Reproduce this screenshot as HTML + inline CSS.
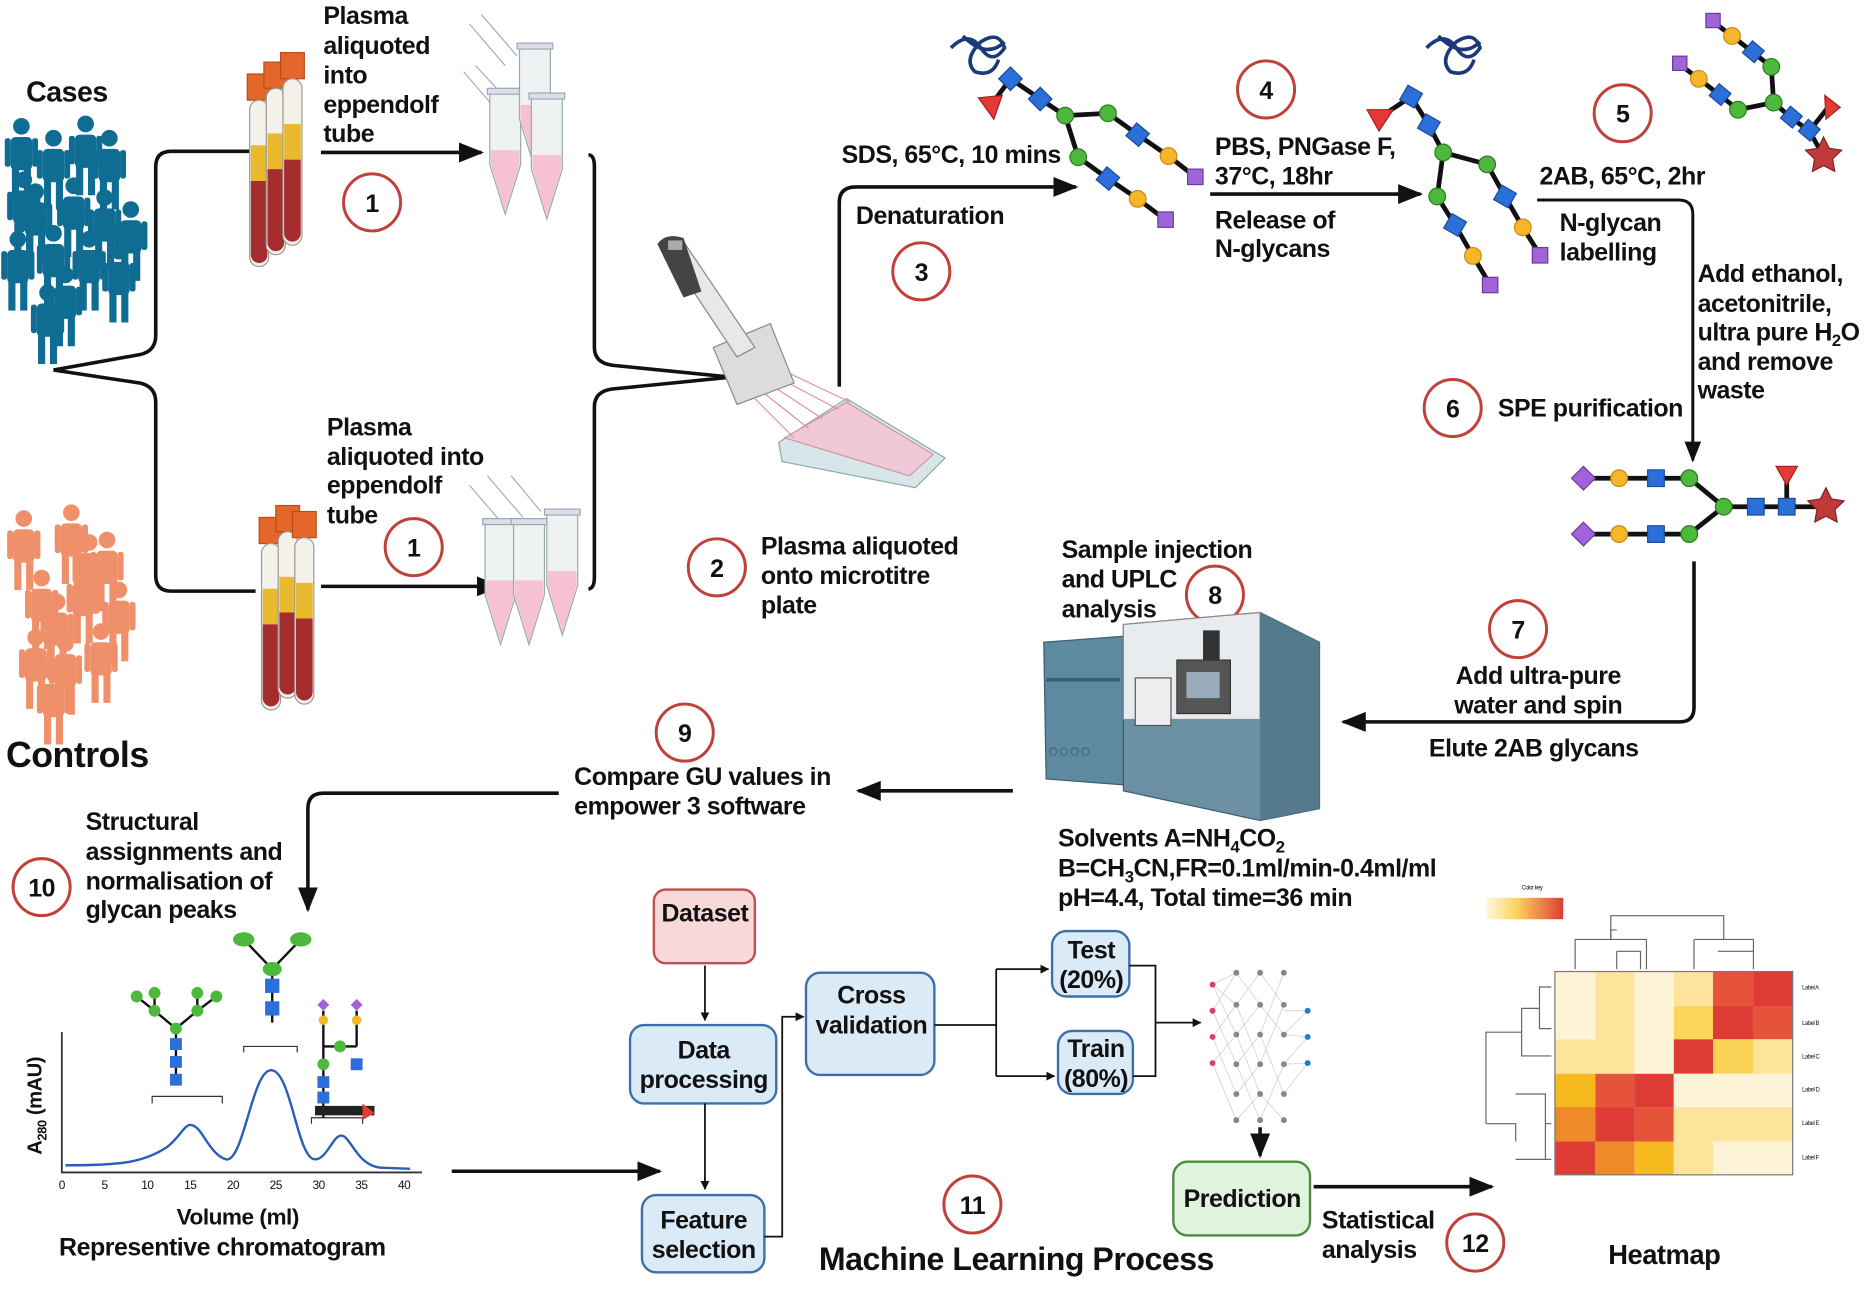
<!DOCTYPE html>
<html><head><meta charset="utf-8"><style>
html,body{margin:0;padding:0;background:#fff}
svg{display:block}
text{font-family:"Liberation Sans Narrow","Liberation Sans",sans-serif;font-weight:bold;fill:#111;letter-spacing:-0.4px}
</style></head><body>
<svg width="1864" height="1294" viewBox="0 0 1568 1088" xmlns="http://www.w3.org/2000/svg">
<defs>
<marker id="ah" viewBox="0 0 10 10" refX="9" refY="5" markerWidth="5" markerHeight="5" orient="auto-start-reverse"><path d="M0,0L10,5L0,10z" fill="#111"/></marker>
<marker id="as" viewBox="0 0 10 10" refX="9" refY="5" markerWidth="7" markerHeight="7" orient="auto"><path d="M0,1L10,5L0,9z" fill="#111"/></marker>
<linearGradient id="ck" x1="0" x2="1"><stop offset="0" stop-color="#fff8e0"/><stop offset="0.4" stop-color="#fcd35a"/><stop offset="1" stop-color="#e03c36"/></linearGradient>
<g id="pb"><circle cx="0" cy="-24" r="7"/><rect x="-9" y="-15" width="18" height="28" rx="4"/><rect x="-8" y="10" width="6" height="26"/><rect x="2" y="10" width="6" height="26"/><rect x="-14" y="-14" width="5" height="24" rx="2"/><rect x="9" y="-14" width="5" height="24" rx="2"/></g>
<g id="tube"><rect x="0" y="0" width="20" height="22" fill="#e4662a" stroke="#b84d1c"/><rect x="2" y="22" width="16" height="140" rx="8" fill="#f4f0ea" stroke="#999"/><rect x="3" y="60" width="14" height="30" fill="#e9b92e"/><path d="M3,90h14v62a7,7 0 0 1 -14,0z" fill="#a52d2d"/></g>
<g id="epp"><path d="M0,0h26v60l-13,42l-13,-42z" fill="#eef2f2" stroke="#9aa"/><path d="M1,48h24v12l-12,40l-12,-40z" fill="#f6c2d3"/><rect x="-2" y="-4" width="30" height="5" fill="#dde" stroke="#9aa"/></g>
</defs>

<!-- People cases -->
<g fill="#0f6c92">
<use href="#pb" x="18" y="130"/><use href="#pb" x="45" y="140"/><use href="#pb" x="72" y="128"/><use href="#pb" x="92" y="140"/>
<use href="#pb" x="30" y="185"/><use href="#pb" x="62" y="180"/><use href="#pb" x="88" y="190"/><use href="#pb" x="110" y="200"/>
<use href="#pb" x="15" y="225"/><use href="#pb" x="45" y="220"/><use href="#pb" x="75" y="225"/><use href="#pb" x="100" y="235"/>
<use href="#pb" x="40" y="270"/><use href="#pb" x="20" y="175"/><use href="#pb" x="55" y="255"/>
</g>
<g fill="#f0906a">
<use href="#pb" x="20" y="460"/><use href="#pb" x="60" y="455"/><use href="#pb" x="90" y="478"/>
<use href="#pb" x="35" y="510"/><use href="#pb" x="70" y="505"/><use href="#pb" x="100" y="520"/>
<use href="#pb" x="30" y="560"/><use href="#pb" x="55" y="565"/><use href="#pb" x="85" y="555"/><use href="#pb" x="45" y="590"/>
<use href="#pb" x="48" y="530"/><use href="#pb" x="75" y="480"/>
</g>
<text x="22" y="85" font-size="24">Cases</text>
<text x="5" y="645" font-size="30">Controls</text>

<!-- brackets -->
<g fill="none" stroke="#111" stroke-width="3">
<path d="M45,311 L118,298 Q131,295 131,282 V140 Q131,127 144,127 H210"/>
<path d="M45,311 L118,322 Q131,325 131,338 V484 Q131,497 144,497 H215"/>
<path d="M495,130 Q500,130 500,140 V292 Q500,305 515,307 L615,317"/>
<path d="M495,495 Q500,495 500,485 V342 Q500,329 515,327 L615,317"/>
</g>

<!-- tubes -->
<use href="#tube" x="208" y="62"/><use href="#tube" x="222" y="52"/><use href="#tube" x="236" y="44"/>
<use href="#tube" x="218" y="435"/><use href="#tube" x="232" y="425"/><use href="#tube" x="246" y="430"/>
<text font-size="21"><tspan x="272" y="20">Plasma</tspan><tspan x="272" y="45">aliquoted</tspan><tspan x="272" y="70">into</tspan><tspan x="272" y="95">eppendolf</tspan><tspan x="272" y="119">tube</tspan></text>
<line x1="270" y1="128" x2="405" y2="128" stroke="#111" stroke-width="3" marker-end="url(#as)"/>
<text font-size="21"><tspan x="275" y="366">Plasma</tspan><tspan x="275" y="391">aliquoted into</tspan><tspan x="275" y="415">eppendolf</tspan><tspan x="275" y="440">tube</tspan></text>
<line x1="270" y1="493" x2="420" y2="493" stroke="#111" stroke-width="3" marker-end="url(#as)"/>

<!-- eppendorfs -->
<g stroke="#aab" fill="#f4f6f6"><path d="M395,20l30,35M405,12l30,35M390,60l30,35M400,55l28,30"/></g>
<use href="#epp" x="412" y="78"/><use href="#epp" x="437" y="40"/><use href="#epp" x="447" y="82"/>
<g stroke="#aab" fill="none"><path d="M395,408l30,35M410,400l30,35M430,400l25,30"/></g>
<use href="#epp" x="408" y="440"/><use href="#epp" x="432" y="440"/><use href="#epp" x="460" y="432"/>

<!-- pipette and plate -->
<g>
<path d="M655,372 L712,335 L795,385 L770,410 L658,388 Z" fill="#d8e6ea" stroke="#8aa"/>
<path d="M660,368 L712,338 L785,382 L765,400 Z" fill="#f0c8d8" stroke="#c99"/>
<g stroke="#e090b0" stroke-width="1"><path d="M625,325 L668,368M632,322 L680,360M640,318 L692,352M648,314 L705,344M656,310 L715,338"/></g>
<path d="M600,292 L648,272 L668,322 L620,340 Z" fill="#dcdcdc" stroke="#888"/>
<path d="M560,210 L575,203 L635,292 L620,300 Z" fill="#e8e8e8" stroke="#888"/>
<path d="M553,205 Q560,195 575,200 L590,245 L575,250 Z" fill="#444"/>
<rect x="562" y="202" width="12" height="8" fill="#aaa"/>
</g>

<!-- numbered circles -->
<g fill="#fff" stroke="#c0403a" stroke-width="2.5">
<circle cx="313" cy="170" r="24"/><circle cx="348" cy="460" r="24"/><circle cx="603" cy="477" r="24"/><circle cx="775" cy="228" r="24"/>
<circle cx="1065" cy="75" r="24"/><circle cx="1365" cy="95" r="24"/><circle cx="1222" cy="343" r="24"/><circle cx="1277" cy="529" r="24"/>
<circle cx="1022" cy="500" r="24"/><circle cx="576" cy="616" r="24"/><circle cx="35" cy="746" r="24"/><circle cx="818" cy="1013" r="24"/><circle cx="1241" cy="1045" r="24"/>
</g>
<g font-size="21" text-anchor="middle">
<text x="313" y="178">1</text><text x="348" y="468">1</text><text x="603" y="485">2</text><text x="775" y="236">3</text>
<text x="1065" y="83">4</text><text x="1365" y="103">5</text><text x="1222" y="351">6</text><text x="1277" y="537">7</text>
<text x="1022" y="508">8</text><text x="576" y="624">9</text><text x="35" y="754">10</text><text x="818" y="1021">11</text><text x="1241" y="1053">12</text>
</g>
<text font-size="21"><tspan x="640" y="466">Plasma aliquoted</tspan><tspan x="640" y="491">onto microtitre</tspan><tspan x="640" y="516">plate</tspan></text>

<!-- step 3 -->
<path d="M706,325 V170 Q706,157 720,157 H905" fill="none" stroke="#111" stroke-width="3" marker-end="url(#as)"/>
<text x="708" y="137" font-size="21">SDS, 65°C, 10 mins</text>
<text x="720" y="188" font-size="21">Denaturation</text>

<!-- glycan link lines -->
<g stroke="#111" stroke-width="4" fill="none">
<path d="M833,89 L850,66 L875,83 L896,97 L932,95 L957,113 L983,131 L1006,149"/>
<path d="M896,97 L907,132 L932,150 L957,167 L981,185"/>
<path d="M1160,99 L1187,81 L1202,105 L1214,128 L1251,138 L1266,165 L1281,191 L1296,215"/>
<path d="M1214,128 L1209,165 L1224,189 L1239,215 L1254,240"/>
<path d="M1441,18 L1457,30 L1475,44 L1490,56 L1492,86 L1507,99 L1522,110 L1534,131"/>
<path d="M1413,54 L1429,66 L1447,80 L1462,92 L1492,86 M1522,110 L1541,86"/>
<path d="M1332,402 H1421 L1450,426 H1534 M1332,449 H1421 L1450,426 M1503,426 V397"/>
</g>
<g fill="none" stroke="#1a3a7a" stroke-width="3">
<path d="M800,40 q15,-15 25,0 q10,15 20,0 q-5,-15 -20,-5 q-15,15 -5,25 q15,5 20,-10 M810,30 q20,20 35,5"/>
<path d="M1200,40 q15,-15 25,0 q10,15 20,0 q-5,-15 -20,-5 q-15,15 -5,25 q15,5 20,-10 M1210,30 q20,20 35,5"/>
</g>
<!-- glycan symbols -->
<g fill="#2d6fd8" stroke="#1a4a9a" stroke-width="1">
<rect x="843" y="59" width="14" height="14" transform="rotate(45 850 66)"/><rect x="868" y="76" width="14" height="14" transform="rotate(45 875 83)"/>
<rect x="950" y="106" width="14" height="14" transform="rotate(40 957 113)"/><rect x="925" y="143" width="14" height="14" transform="rotate(40 932 150)"/>
<rect x="1180" y="74" width="14" height="14" transform="rotate(30 1187 81)"/><rect x="1195" y="98" width="14" height="14" transform="rotate(30 1202 105)"/>
<rect x="1259" y="158" width="14" height="14" transform="rotate(30 1266 165)"/><rect x="1217" y="182" width="14" height="14" transform="rotate(30 1224 189)"/>
<rect x="1468" y="37" width="13" height="13" transform="rotate(40 1475 44)"/><rect x="1500" y="92" width="13" height="13" transform="rotate(40 1507 99)"/><rect x="1515" y="103" width="13" height="13" transform="rotate(40 1522 110)"/><rect x="1440" y="73" width="13" height="13" transform="rotate(40 1447 80)"/>
<rect x="1386" y="395" width="14" height="14"/><rect x="1386" y="442" width="14" height="14"/><rect x="1470" y="419" width="14" height="14"/><rect x="1496" y="419" width="14" height="14"/>
</g>
<g fill="#4cb83c" stroke="#2d7a22" stroke-width="1">
<circle cx="896" cy="97" r="7"/><circle cx="932" cy="95" r="7"/><circle cx="907" cy="132" r="7"/>
<circle cx="1214" cy="128" r="7"/><circle cx="1251" cy="138" r="7"/><circle cx="1209" cy="165" r="7"/>
<circle cx="1490" cy="56" r="7"/><circle cx="1492" cy="86" r="7"/><circle cx="1462" cy="92" r="7"/>
<circle cx="1421" cy="402" r="7"/><circle cx="1421" cy="449" r="7"/><circle cx="1450" cy="426" r="7"/>
</g>
<g fill="#f5b62a" stroke="#c98a10" stroke-width="1">
<circle cx="983" cy="131" r="7"/><circle cx="957" cy="167" r="7"/><circle cx="1281" cy="191" r="7"/><circle cx="1239" cy="215" r="7"/>
<circle cx="1457" cy="30" r="7"/><circle cx="1429" cy="66" r="7"/><circle cx="1362" cy="402" r="7"/><circle cx="1362" cy="449" r="7"/>
</g>
<g fill="#a063d8" stroke="#6a3aa0" stroke-width="1">
<rect x="999" y="142" width="13" height="13"/><rect x="974" y="178" width="13" height="13"/><rect x="1289" y="208" width="13" height="13"/><rect x="1247" y="233" width="13" height="13"/>
<rect x="1435" y="11" width="12" height="12"/><rect x="1407" y="47" width="12" height="12"/>
<path d="M1322,402l10,-10l10,10l-10,10z M1322,449l10,-10l10,10l-10,10z"/>
</g>
<g fill="#e53935" stroke="#a02020" stroke-width="1">
<path d="M823,82 L843,80 L836,100 Z"/><path d="M1150,92 L1172,92 L1160,110 Z"/><path d="M1535,80 L1548,90 L1536,100 Z"/><path d="M1494,392 H1512 L1503,408 Z"/>
</g>
<g fill="#c03a3a" stroke="#802020" stroke-width="1">
<path d="M0,-16 L4.7,-6.5 L15.2,-4.9 L7.6,2.5 L9.4,12.9 L0,8 L-9.4,12.9 L-7.6,2.5 L-15.2,-4.9 L-4.7,-6.5 Z" transform="translate(1534,131)"/>
<path d="M0,-16 L4.7,-6.5 L15.2,-4.9 L7.6,2.5 L9.4,12.9 L0,8 L-9.4,12.9 L-7.6,2.5 L-15.2,-4.9 L-4.7,-6.5 Z" transform="translate(1536,426)"/>
</g>

<!-- step 4 -->
<text font-size="21"><tspan x="1022" y="130">PBS, PNGase F,</tspan><tspan x="1022" y="155">37°C, 18hr</tspan></text>
<line x1="1018" y1="163" x2="1195" y2="163" stroke="#111" stroke-width="3" marker-end="url(#as)"/>
<text font-size="21"><tspan x="1022" y="192">Release of</tspan><tspan x="1022" y="216">N-glycans</tspan></text>

<!-- step 5/6 -->
<text x="1295" y="155" font-size="21">2AB, 65°C, 2hr</text>
<path d="M1293,168 H1412 Q1424,168 1424,180 V387" fill="none" stroke="#111" stroke-width="2.5" marker-end="url(#as)"/>
<text font-size="21"><tspan x="1312" y="194">N-glycan</tspan><tspan x="1312" y="219">labelling</tspan></text>
<text font-size="21"><tspan x="1428" y="237">Add ethanol,</tspan><tspan x="1428" y="262">acetonitrile,</tspan><tspan x="1428" y="286">ultra pure H<tspan font-size="14" dy="5">2</tspan><tspan dy="-5">O</tspan></tspan><tspan x="1428" y="311">and remove</tspan><tspan x="1428" y="335">waste</tspan></text>
<text x="1260" y="350" font-size="21">SPE purification</text>

<!-- step 7 -->
<path d="M1425,472 V595 Q1425,607 1413,607 H1130" fill="none" stroke="#111" stroke-width="3" marker-end="url(#as)"/>
<text font-size="21" text-anchor="middle"><tspan x="1294" y="575">Add ultra-pure</tspan><tspan x="1294" y="600">water and spin</tspan></text>
<text x="1202" y="636" font-size="21">Elute 2AB glycans</text>

<!-- UPLC -->
<g>
<path d="M878,540 L945,535 L945,660 L880,655 Z" fill="#5d8aa0" stroke="#3d5d70"/>
<rect x="880" y="570" width="62" height="3" fill="#3d5d70"/>
<path d="M945,525 L1060,515 L1110,540 L1110,680 L1060,690 L945,665 Z" fill="#6b8fa3" stroke="#3d5d70"/>
<path d="M945,525 L1060,515 L1060,605 L945,605 Z" fill="#e8ecee" stroke="#889"/>
<rect x="990" y="555" width="45" height="45" fill="#555" stroke="#333"/>
<rect x="998" y="565" width="28" height="22" fill="#9ab"/>
<rect x="955" y="570" width="30" height="40" fill="#eee" stroke="#555"/>
<rect x="1012" y="530" width="14" height="25" fill="#333"/>
<path d="M1060,515 L1110,540 L1110,680 L1060,690 Z" fill="#557a8e"/>
<g fill="none" stroke="#44667a"><circle cx="886" cy="632" r="3"/><circle cx="895" cy="632" r="3"/><circle cx="904" cy="632" r="3"/><circle cx="913" cy="632" r="3"/></g>
</g>
<text font-size="21"><tspan x="893" y="469">Sample injection</tspan><tspan x="893" y="494">and UPLC</tspan><tspan x="893" y="519">analysis</tspan></text>
<text font-size="21"><tspan x="890" y="712">Solvents A=NH<tspan font-size="14" dy="5">4</tspan><tspan dy="-5">CO</tspan><tspan font-size="14" dy="5">2</tspan></tspan><tspan x="890" y="737">B=CH<tspan font-size="14" dy="5">3</tspan><tspan dy="-5">CN,FR=0.1ml/min-0.4ml/ml</tspan></tspan><tspan x="890" y="762">pH=4.4, Total time=36 min</tspan></text>

<!-- step 9 -->
<line x1="852" y1="665" x2="722" y2="665" stroke="#111" stroke-width="3" marker-end="url(#as)"/>
<text font-size="21"><tspan x="483" y="660">Compare GU values in</tspan><tspan x="483" y="685">empower 3 software</tspan></text>
<path d="M470,667 H272 Q259,667 259,680 V765" fill="none" stroke="#111" stroke-width="3" marker-end="url(#as)"/>
<text font-size="21"><tspan x="72" y="698">Structural</tspan><tspan x="72" y="723">assignments and</tspan><tspan x="72" y="748">normalisation of</tspan><tspan x="72" y="772">glycan peaks</tspan></text>

<!-- chromatogram -->
<path d="M52,868 V986 H355" stroke="#333" stroke-width="1.5" fill="none"/>
<g font-size="10" text-anchor="middle">
<text x="52" y="1000" style="font-weight:normal">0</text><text x="88" y="1000" style="font-weight:normal">5</text><text x="124" y="1000" style="font-weight:normal">10</text><text x="160" y="1000" style="font-weight:normal">15</text><text x="196" y="1000" style="font-weight:normal">20</text><text x="232" y="1000" style="font-weight:normal">25</text><text x="268" y="1000" style="font-weight:normal">30</text><text x="304" y="1000" style="font-weight:normal">35</text><text x="340" y="1000" style="font-weight:normal">40</text>
</g>
<path d="M55,980 C100,980 120,978 140,965 C150,958 155,946 160,946 C170,946 175,970 190,975 C205,978 212,900 228,900 C245,900 250,975 265,975 C275,975 280,955 287,955 C295,955 300,980 320,982 L345,983" fill="none" stroke="#2a5cb8" stroke-width="2"/>
<text x="200" y="1030" font-size="19" text-anchor="middle">Volume (ml)</text>
<text x="187" y="1056" font-size="21" text-anchor="middle">Representive chromatogram</text>
<text transform="translate(35,930) rotate(-90)" font-size="17" text-anchor="middle">A<tspan font-size="11" dy="4">280</tspan><tspan dy="-4"> (mAU)</tspan></text>
<g stroke="#333" stroke-width="1" fill="none"><path d="M128,928 V922 H187 V928 M205,885 V880 H250 V885 M262,945 V940 H305 V945"/></g>
<g stroke="#111" stroke-width="2" fill="none">
<path d="M148,912 V865 M148,865 L130,850 L130,835 M148,865 L166,850 L166,835 M166,850 L182,838 M130,850 L115,838"/>
<path d="M229,860 V815 M229,815 L205,790 M229,815 L253,790"/>
<path d="M272,940 V860 M272,880 L300,880 M300,880 V860 M272,862 V850 M300,862 V850"/>
</g>
<g fill="#4cb83c"><circle cx="148" cy="865" r="5"/><circle cx="130" cy="850" r="5"/><circle cx="166" cy="850" r="5"/><circle cx="130" cy="835" r="5"/><circle cx="166" cy="835" r="5"/><circle cx="182" cy="838" r="5"/><circle cx="115" cy="838" r="5"/><ellipse cx="229" cy="815" rx="8" ry="6"/><ellipse cx="205" cy="790" rx="9" ry="6"/><ellipse cx="253" cy="790" rx="9" ry="6"/><circle cx="286" cy="880" r="5"/><circle cx="272" cy="895" r="5"/></g>
<g fill="#2d6fd8"><rect x="143" y="873" width="10" height="10"/><rect x="143" y="888" width="10" height="10"/><rect x="143" y="903" width="10" height="10"/><rect x="223" y="823" width="12" height="12"/><rect x="223" y="842" width="12" height="12"/><rect x="267" y="905" width="10" height="10"/><rect x="267" y="918" width="10" height="10"/><rect x="295" y="890" width="10" height="10"/></g>
<g fill="#f5b62a"><circle cx="272" cy="858" r="4"/><circle cx="300" cy="858" r="4"/></g>
<g fill="#a063d8"><path d="M267,845l5,-5l5,5l-5,5z M295,845l5,-5l5,5l-5,5z"/></g>
<g><rect x="265" y="930" width="50" height="8" fill="#222"/><path d="M305,928 L315,936 L305,942Z" fill="#e53935"/></g>

<line x1="380" y1="985" x2="555" y2="985" stroke="#111" stroke-width="3" marker-end="url(#as)"/>

<!-- ML boxes -->
<g stroke-width="2">
<rect x="550" y="748" width="85" height="62" rx="10" fill="#f8d8d8" stroke="#c0504d"/>
<rect x="530" y="862" width="123" height="66" rx="12" fill="#dbeaf7" stroke="#3d6fa8"/>
<rect x="540" y="1005" width="103" height="65" rx="12" fill="#dbeaf7" stroke="#3d6fa8"/>
<rect x="678" y="818" width="108" height="86" rx="12" fill="#dbeaf7" stroke="#3d6fa8"/>
<rect x="885" y="783" width="65" height="55" rx="12" fill="#dbeaf7" stroke="#3d6fa8"/>
<rect x="890" y="867" width="63" height="53" rx="12" fill="#dbeaf7" stroke="#3d6fa8"/>
<rect x="987" y="977" width="115" height="62" rx="12" fill="#e0f3dc" stroke="#4c8c3e"/>
</g>
<g font-size="21" text-anchor="middle">
<text x="593" y="775">Dataset</text>
<text x="592" y="890">Data</text><text x="592" y="915">processing</text>
<text x="592" y="1033">Feature</text><text x="592" y="1058">selection</text>
<text x="733" y="844">Cross</text><text x="733" y="869">validation</text>
<text x="918" y="806">Test</text><text x="918" y="831">(20%)</text>
<text x="922" y="889">Train</text><text x="922" y="914">(80%)</text>
<text x="1045" y="1015">Prediction</text>
</g>
<g stroke="#111" stroke-width="1.5" fill="none">
<line x1="593" y1="812" x2="593" y2="858" marker-end="url(#ah)"/>
<line x1="593" y1="928" x2="593" y2="1000" marker-end="url(#ah)"/>
<path d="M643,1040 H658 V855 H676" marker-end="url(#ah)"/>
<path d="M786,862 H838"/>
<path d="M838,815 V905"/>
<path d="M838,815 H882" marker-end="url(#ah)"/>
<path d="M838,905 H887" marker-end="url(#ah)"/>
<path d="M950,812 H972 V905 H953"/>
<path d="M972,860 H1010" marker-end="url(#ah)"/>
</g>
<!-- neural net -->
<g stroke="#ccc" stroke-width="0.6">
<path d="M1020,828 L1040,818 M1020,828 L1040,845 M1020,828 L1040,870 M1020,850 L1040,818 M1020,850 L1040,895 M1020,872 L1040,845 M1020,872 L1040,920 M1020,894 L1040,870 M1020,894 L1040,942 M1040,818 L1060,845 M1040,845 L1060,818 M1040,845 L1060,895 M1040,870 L1060,845 M1040,870 L1060,920 M1040,895 L1060,870 M1040,895 L1060,942 M1040,920 L1060,895 M1040,942 L1060,920 M1060,818 L1080,845 M1060,845 L1080,870 M1060,870 L1080,818 M1060,870 L1080,920 M1060,895 L1080,845 M1060,920 L1080,942 M1060,942 L1080,895 M1080,850 L1100,850 M1080,870 L1100,872 M1080,895 L1100,894 M1080,870 L1100,850 M1080,895 L1100,872 M1080,920 L1100,894"/>
</g>
<g fill="#888">
<circle cx="1040" cy="818" r="2.5"/><circle cx="1040" cy="845" r="2.5"/><circle cx="1040" cy="870" r="2.5"/><circle cx="1040" cy="895" r="2.5"/><circle cx="1040" cy="920" r="2.5"/><circle cx="1040" cy="942" r="2.5"/>
<circle cx="1060" cy="818" r="2.5"/><circle cx="1060" cy="845" r="2.5"/><circle cx="1060" cy="870" r="2.5"/><circle cx="1060" cy="895" r="2.5"/><circle cx="1060" cy="920" r="2.5"/><circle cx="1060" cy="942" r="2.5"/>
<circle cx="1080" cy="818" r="2.5"/><circle cx="1080" cy="845" r="2.5"/><circle cx="1080" cy="870" r="2.5"/><circle cx="1080" cy="895" r="2.5"/><circle cx="1080" cy="920" r="2.5"/><circle cx="1080" cy="942" r="2.5"/>
</g>
<g fill="#d84070"><circle cx="1020" cy="828" r="2.5"/><circle cx="1020" cy="850" r="2.5"/><circle cx="1020" cy="872" r="2.5"/><circle cx="1020" cy="894" r="2.5"/></g>
<g fill="#1a80c8"><circle cx="1100" cy="850" r="2.5"/><circle cx="1100" cy="872" r="2.5"/><circle cx="1100" cy="894" r="2.5"/></g>
<line x1="1060" y1="948" x2="1060" y2="972" stroke="#111" stroke-width="3" marker-end="url(#as)"/>
<line x1="1105" y1="998" x2="1255" y2="998" stroke="#111" stroke-width="3" marker-end="url(#as)"/>

<text x="855" y="1068" font-size="27" text-anchor="middle">Machine Learning Process</text>
<text font-size="21"><tspan x="1112" y="1033">Statistical</tspan><tspan x="1112" y="1058">analysis</tspan></text>

<!-- heatmap -->
<rect x="1250" y="755" width="65" height="18" fill="url(#ck)"/>
<text x="1280" y="748" font-size="5" style="font-weight:normal">Color key</text>
<g>
<rect x="1308" y="817" width="34" height="29" fill="#fdf3d6"/><rect x="1342" y="817" width="33" height="29" fill="#fde49a"/><rect x="1375" y="817" width="33" height="29" fill="#fdf3d6"/><rect x="1408" y="817" width="33" height="29" fill="#fde39b"/><rect x="1441" y="817" width="34" height="29" fill="#e5533a"/><rect x="1475" y="817" width="33" height="29" fill="#e03c36"/>
<rect x="1308" y="846" width="34" height="28" fill="#fdf3d6"/><rect x="1342" y="846" width="33" height="28" fill="#fde49a"/><rect x="1375" y="846" width="33" height="28" fill="#fdf3d6"/><rect x="1408" y="846" width="33" height="28" fill="#fcd55a"/><rect x="1441" y="846" width="34" height="28" fill="#e03c36"/><rect x="1475" y="846" width="33" height="28" fill="#e5533a"/>
<rect x="1308" y="874" width="34" height="29" fill="#fde49a"/><rect x="1342" y="874" width="33" height="29" fill="#fde49a"/><rect x="1375" y="874" width="33" height="29" fill="#fdf3d6"/><rect x="1408" y="874" width="33" height="29" fill="#e03c36"/><rect x="1441" y="874" width="34" height="29" fill="#fbd357"/><rect x="1475" y="874" width="33" height="29" fill="#fde49a"/>
<rect x="1308" y="903" width="34" height="28" fill="#f6b91e"/><rect x="1342" y="903" width="33" height="28" fill="#e5533a"/><rect x="1375" y="903" width="33" height="28" fill="#e03c36"/><rect x="1408" y="903" width="33" height="28" fill="#fdf3d6"/><rect x="1441" y="903" width="34" height="28" fill="#fdf3d6"/><rect x="1475" y="903" width="33" height="28" fill="#fdf3d6"/>
<rect x="1308" y="931" width="34" height="29" fill="#ef8a2a"/><rect x="1342" y="931" width="33" height="29" fill="#e03c36"/><rect x="1375" y="931" width="33" height="29" fill="#e5533a"/><rect x="1408" y="931" width="33" height="29" fill="#fde49a"/><rect x="1441" y="931" width="34" height="29" fill="#fde49a"/><rect x="1475" y="931" width="33" height="29" fill="#fde49a"/>
<rect x="1308" y="960" width="34" height="28" fill="#e03c36"/><rect x="1342" y="960" width="33" height="28" fill="#ef8a2a"/><rect x="1375" y="960" width="33" height="28" fill="#f6b91e"/><rect x="1408" y="960" width="33" height="28" fill="#fde49a"/><rect x="1441" y="960" width="34" height="28" fill="#fdf3d6"/><rect x="1475" y="960" width="33" height="28" fill="#fdf3d6"/>
</g>
<rect x="1308" y="817" width="200" height="171" fill="none" stroke="#777" stroke-width="1"/>
<g fill="none" stroke="#666" stroke-width="1">
<path d="M1325,815 V790 H1385 V815 M1355,790 V782 H1360 M1360,800 H1380 V815 M1360,800 V815"/>
<path d="M1355,790 V770 H1450 V790 M1425,790 H1475 V815 M1425,790 V815 M1445,800 H1475"/>
<path d="M1305,830 H1295 V865 H1305 M1295,848 H1280 V888 H1305 M1280,868 H1250 V945 M1250,945 H1275 V960 M1275,920 H1300 V975 H1305 M1300,945 H1305 M1275,975 H1305"/>
</g>
<g font-size="5" fill="#888">
<text x="1516" y="832" style="font-weight:normal">Label A</text><text x="1516" y="862" style="font-weight:normal">Label B</text><text x="1516" y="890" style="font-weight:normal">Label C</text><text x="1516" y="918" style="font-weight:normal">Label D</text><text x="1516" y="946" style="font-weight:normal">Label E</text><text x="1516" y="975" style="font-weight:normal">Label F</text>
</g>
<text x="1400" y="1063" font-size="23" text-anchor="middle">Heatmap</text>
</svg>
</body></html>
